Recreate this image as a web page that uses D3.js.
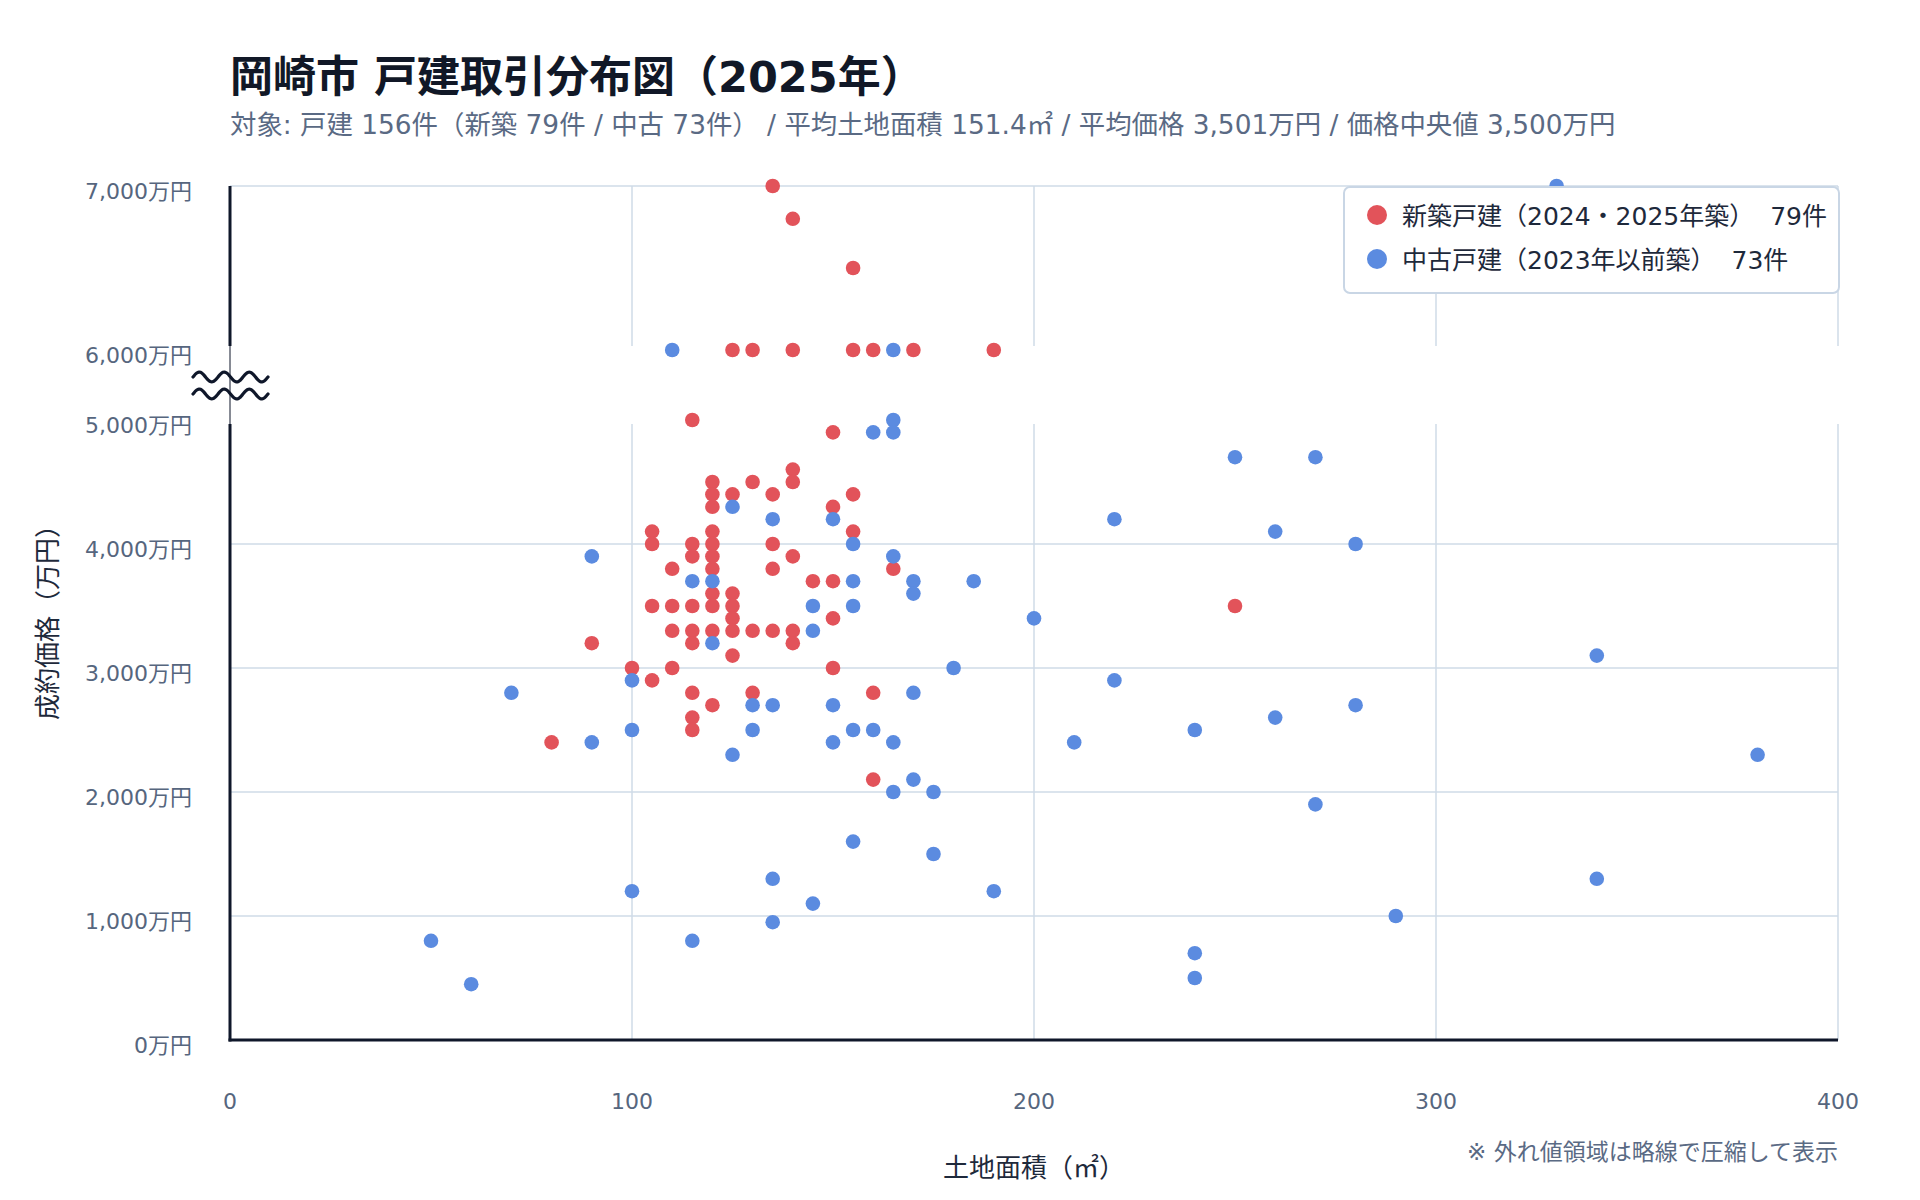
<!DOCTYPE html>
<html><head><meta charset="utf-8">
<script src="https://cdn.jsdelivr.net/npm/d3@7"></script>
<style>
body{margin:0;background:#fff}
svg text{font-family:"DejaVu Sans","Noto Sans CJK JP",sans-serif}
</style>
</head><body>
<svg id="c" width="1920" height="1200"></svg>
<script>
// ---- data (land area ㎡, price 万円) ----
const newArea = [135,140,155,125,130,140,155,160,170,190,
  115,150,140,140,120,130,120,125,135,155,120,150,105,120,155,105,115,120,135,
  115,120,140,110,120,135,165,145,150,120,125,105,110,115,120,125,125,150,
  110,115,120,125,130,135,140,115,140,90,125,100,110,150,105,115,130,160,120,115,115,80,160,250];
const newPrice = [7000,6800,6500,6000,6000,6000,6000,6000,6000,6000,
  5000,4900,4600,4500,4500,4500,4400,4400,4400,4400,4300,4300,4100,4100,4100,4000,4000,4000,4000,
  3900,3900,3900,3800,3800,3800,3800,3700,3700,3600,3600,3500,3500,3500,3500,3500,3400,3400,
  3300,3300,3300,3300,3300,3300,3300,3200,3200,3200,3100,3000,3000,3000,2900,2800,2800,2800,2700,2600,2500,2400,2100,3500];
const usedArea = [110,165,330,
  160,165,165,125,135,150,155,90,165,115,120,155,170,170,145,155,145,120,180,100,70,170,130,135,150,
  100,130,155,160,90,150,165,125,170,165,175,
  250,270,220,260,280,185,200,340,220,280,260,240,210,380,270,155,175,135,340,100,190,145,290,135,50,115,240,60,240];
const usedPrice = [6000,6000,7000,
  4900,5000,4900,4300,4200,4200,4000,3900,3900,3700,3700,3700,3700,3600,3500,3500,3300,3200,3000,2900,2800,2800,2700,2700,2700,
  2500,2500,2500,2500,2400,2400,2400,2300,2100,2000,2000,
  4700,4700,4200,4100,4000,3700,3400,3100,2900,2700,2600,2500,2400,2300,1900,1600,1500,1300,1300,1200,1200,1100,1000,950,800,800,700,450,500];
const xTicks = [0,100,200,300,400];
const yTicksLower = [0,1000,2000,3000,4000,5000];
const yTicksUpper = [6000,7000];
const breakMin = 5000, breakMax = 6000;

const titleText = "岡崎市 戸建取引分布図（2025年）";
const subtitleText = "対象: 戸建 156件（新築 79件 / 中古 73件） / 平均土地面積 151.4㎡ / 平均価格 3,501万円 / 価格中央値 3,500万円";
const legendLabels = ["新築戸建（2024・2025年築）  79件", "中古戸建（2023年以前築）  73件"];
const xTitle = "土地面積（㎡）", yTitle = "成約価格（万円）";
const note = "※ 外れ値領域は略線で圧縮して表示";

const RED = "#e2535a", BLUE = "#5b8be0", DARK = "#0f172a", GRID = "#cfdbe7", TICK = "#56667e";

const svg = d3.select("#c");
const L = 230, R = 1838, B = 1040, lowTop = 424, upTop = 186, upBot = 346;
const x = d3.scaleLinear([0,400],[L,R]);
const yL = d3.scaleLinear([0,5000],[B,420]);
const yU = d3.scaleLinear([6000,7000],[350,186]);
const yy = v => v > breakMin ? yU(v) : yL(v);

// title
svg.append("text").attr("x",L).attr("y",92).attr("font-size",43).attr("font-weight",700)
  .attr("fill","#111827").text(titleText);
svg.append("text").attr("x",L).attr("y",134).attr("font-size",26.4).attr("fill","#5a6a84").text(subtitleText);

// grid
const g = svg.append("g");
xTicks.filter(d=>d>0).forEach(d=>{
  g.append("line").attr("x1",x(d)).attr("x2",x(d)).attr("y1",lowTop).attr("y2",B).attr("stroke",GRID).attr("stroke-width",1.5);
  g.append("line").attr("x1",x(d)).attr("x2",x(d)).attr("y1",upTop).attr("y2",upBot).attr("stroke",GRID).attr("stroke-width",1.5);
});
yTicksLower.filter(d=>d>0 && d<5000).forEach(d=>{
  g.append("line").attr("x1",L).attr("x2",R).attr("y1",yL(d)).attr("y2",yL(d)).attr("stroke",GRID).attr("stroke-width",1.5);
});
g.append("line").attr("x1",L).attr("x2",R).attr("y1",yU(7000)).attr("y2",yU(7000)).attr("stroke",GRID).attr("stroke-width",1.5);

// y tick labels
const tickLab = (y,d)=>svg.append("text").attr("x",192).attr("y",y+5).attr("dominant-baseline","central").attr("text-anchor","end")
    .attr("font-size",22).attr("fill",TICK).text(d3.format(",")(d)+"万円");
yTicksLower.forEach(d=>tickLab(yL(d),d));
yTicksUpper.forEach(d=>tickLab(yU(d),d));
// x tick labels
xTicks.forEach(d=>{
  svg.append("text").attr("x",x(d)).attr("y",1101).attr("dominant-baseline","central").attr("text-anchor","middle")
    .attr("font-size",22).attr("fill",TICK).text(d);
});

// points
const pts = svg.append("g");
pts.selectAll("circle.n").data(d3.zip(newArea,newPrice)).join("circle")
  .attr("cx",d=>x(d[0])).attr("cy",d=>yy(d[1])).attr("r",7.3).attr("fill",RED);
pts.selectAll("circle.u").data(d3.zip(usedArea,usedPrice)).join("circle")
  .attr("cx",d=>x(d[0])).attr("cy",d=>yy(d[1])).attr("r",7.3).attr("fill",BLUE);

// axes
svg.append("line").attr("x1",L).attr("x2",L).attr("y1",upTop).attr("y2",346).attr("stroke",DARK).attr("stroke-width",3);
svg.append("line").attr("x1",L).attr("x2",L).attr("y1",424).attr("y2",B+1.5).attr("stroke",DARK).attr("stroke-width",3);
svg.append("line").attr("x1",L).attr("x2",L).attr("y1",346).attr("y2",424).attr("stroke",DARK).attr("stroke-width",1);
svg.append("line").attr("x1",L-1.5).attr("x2",R).attr("y1",B).attr("y2",B).attr("stroke",DARK).attr("stroke-width",3);

// break symbol
const wave = d3.line().curve(d3.curveBasis);
[377,394].forEach(cy=>{
  const p = d3.range(0,75.01,1.5).map(t=>[193+t, cy - 5*Math.sin(t/25*2*Math.PI)]);
  svg.append("path").attr("d",wave(p)).attr("fill","none").attr("stroke",DARK).attr("stroke-width",3.2).attr("stroke-linecap","round");
});

// legend
const lg = svg.append("g");
lg.append("rect").attr("x",1344).attr("y",187).attr("width",495).attr("height",106).attr("rx",6)
  .attr("fill","#fff").attr("stroke","#c9d6e5").attr("stroke-width",2);
[RED,BLUE].forEach((c,i)=>{
  lg.append("circle").attr("cx",1377).attr("cy",215+i*44).attr("r",10).attr("fill",c);
  lg.append("text").attr("x",1402).attr("y",216+i*44).attr("dominant-baseline","central")
    .attr("font-size",25).attr("fill","#1e293b").attr("xml:space","preserve").style("white-space","pre").text(legendLabels[i]);
});

// axis titles
svg.append("text").attr("x",(L+R)/2).attr("y",1168).attr("dominant-baseline","central").attr("text-anchor","middle")
  .attr("font-size",26).attr("fill","#1e293b").text(xTitle);
svg.append("text").attr("transform","translate(48,616) rotate(-90)").attr("dominant-baseline","central").attr("text-anchor","middle")
  .attr("font-size",26).attr("fill","#1e293b").text(yTitle);
svg.append("text").attr("x",R).attr("y",1152).attr("dominant-baseline","central").attr("text-anchor","end")
  .attr("font-size",23).attr("fill","#5a6a84").text(note);
</script>
</body></html>
